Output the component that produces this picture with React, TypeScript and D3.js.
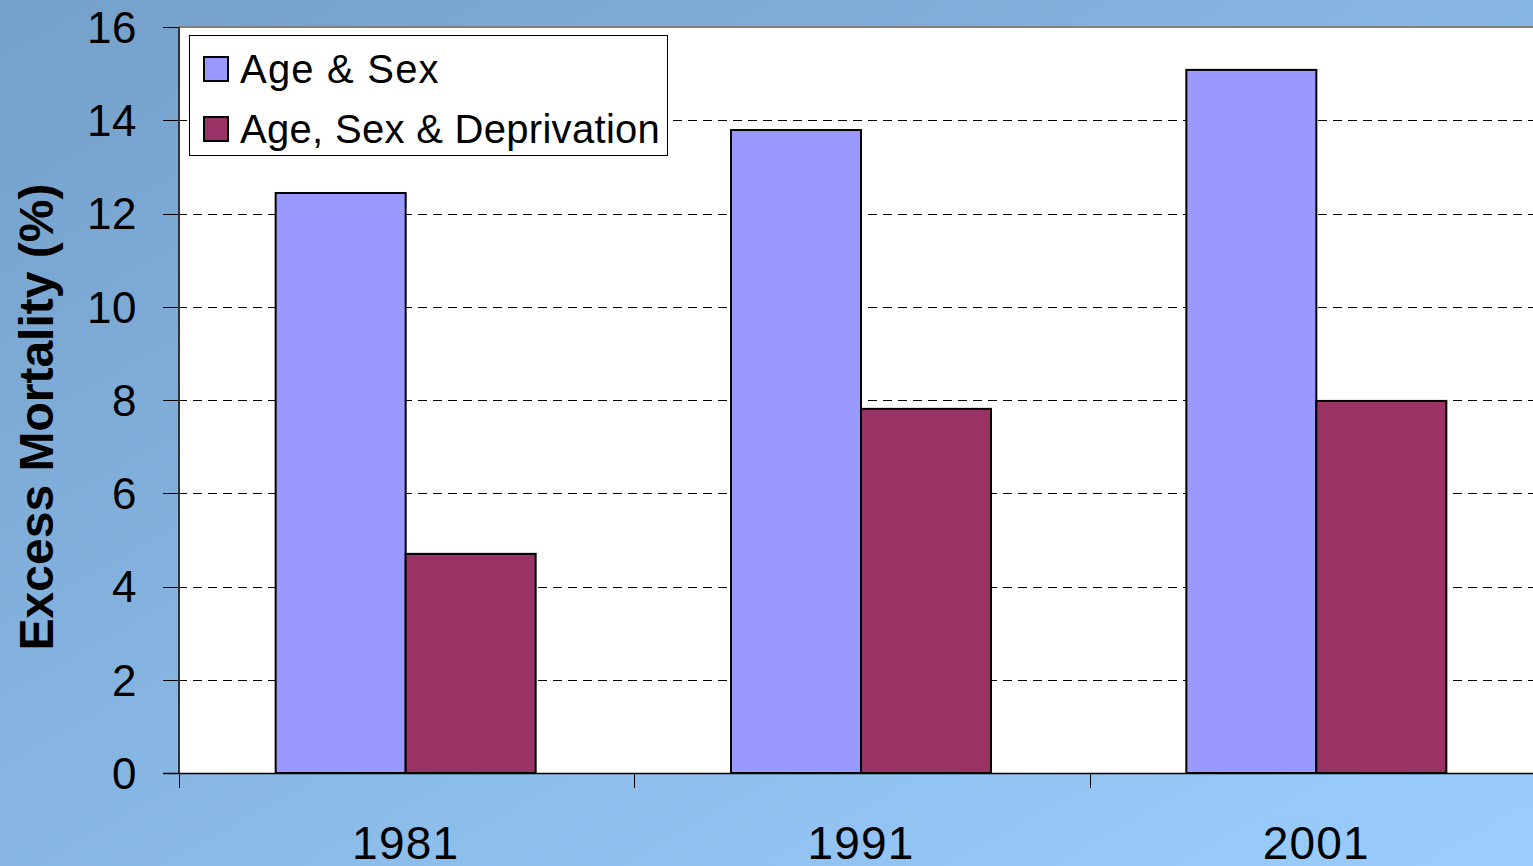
import React from "react";
import * as d3 from "d3";

const categories = ["1981", "1991", "2001"];
const ageSex = [12.44, 13.79, 15.08];
const ageSexDep = [4.7, 7.81, 7.98];
const seriesNames = ["Age & Sex", "Age, Sex & Deprivation"];
const seriesColors = ["#9999FF", "#993366"];
const yTicks = [0, 2, 4, 6, 8, 10, 12, 14, 16];

const W = 1533;
const H = 866;
const left = 178;
const right = 1544;
const top = 27;
const bottom = 773;
const FONT = "'Liberation Sans', Arial, sans-serif";

export default function App() {
  const x = d3.scaleBand<string>().domain(categories).range([left, right]).padding(0);
  const y = d3.scaleLinear().domain([0, 16]).range([bottom, top]);
  const barW = 130;
  const series = [ageSex, ageSexDep];

  return (
    <svg
      width={W}
      height={H}
      style={{ position: "absolute", left: 0, top: 0, display: "block" }}
      fontFamily={FONT}
    >
      <defs>
        <linearGradient id="bg" x1="0" y1="0" x2="1" y2="1">
          <stop offset="0" stopColor="#74a0c9" />
          <stop offset="1" stopColor="#9bceff" />
        </linearGradient>
      </defs>
      <rect x={0} y={0} width={W} height={H} fill="url(#bg)" />
      {/* plot area */}
      <rect x={left} y={top} width={right - left} height={bottom - top} fill="#ffffff" />
      <line x1={left} x2={W} y1={top} y2={top} stroke="#808080" strokeWidth={2} />
      {/* gridlines */}
      {yTicks.filter((t) => t !== 0 && t !== 16).map((t) => (
        <line
          key={"g" + t}
          x1={left}
          x2={W}
          y1={Math.round(y(t)) + 0.5}
          y2={Math.round(y(t)) + 0.5}
          stroke="#000"
          strokeWidth={1}
          strokeDasharray="9,6"
        />
      ))}
      {/* bars */}
      {categories.map((c, i) => {
        const cx = (x(c) as number) + x.bandwidth() / 2;
        return series.map((s, j) => (
          <rect
            key={c + j}
            x={cx - barW + j * barW}
            y={y(s[i])}
            width={barW}
            height={bottom - y(s[i])}
            fill={seriesColors[j]}
            stroke="#000"
            strokeWidth={2}
          />
        ));
      })}
      {/* y axis */}
      <line x1={left + 1} x2={left + 1} y1={top} y2={bottom} stroke="#333" strokeWidth={2} />
      {yTicks.map((t) => (
        <g key={"t" + t}>
          <line x1={163} x2={left} y1={Math.round(y(t)) + 0.5} y2={Math.round(y(t)) + 0.5} stroke="#000" strokeWidth={1} />
          <text x={137} y={y(t)} dy="0.36em" textAnchor="end" fontSize={44} letterSpacing={0.5} fill="#000">
            {t}
          </text>
        </g>
      ))}
      {/* x axis */}
      <line x1={163} x2={W} y1={bottom + 0.5} y2={bottom + 0.5} stroke="#000" strokeWidth={1.5} />
      {categories.map((c) => (
        <line
          key={"xt" + c}
          x1={Math.round(x(c) as number) + 1.5}
          x2={Math.round(x(c) as number) + 1.5}
          y1={bottom}
          y2={788}
          stroke="#000"
          strokeWidth={1}
        />
      ))}
      {categories.map((c) => (
        <text
          key={"xl" + c}
          x={(x(c) as number) + x.bandwidth() / 2}
          y={859}
          textAnchor="middle"
          fontSize={46}
          letterSpacing={1.2}
          fill="#000"
        >
          {c}
        </text>
      ))}
      {/* y title */}
      <text
        transform="translate(53,417) rotate(-90)"
        textAnchor="middle"
        fontSize={48}
        fontWeight="bold"
        fill="#000"
      >
        Excess Mortality (%)
      </text>
      {/* legend */}
      <rect x={189.5} y={35.5} width={478} height={120} fill="#fff" stroke="#000" strokeWidth={1} />
      {seriesNames.map((n, j) => (
        <g key={"lg" + j}>
          <rect x={204} y={57 + j * 60} width={24} height={24} fill={seriesColors[j]} stroke="#000" strokeWidth={2} />
          <text x={240} y={69 + j * 60} dy="0.36em" fontSize={40} letterSpacing={j === 0 ? 1.2 : 0.3} fill="#000">
            {n}
          </text>
        </g>
      ))}
    </svg>
  );
}
